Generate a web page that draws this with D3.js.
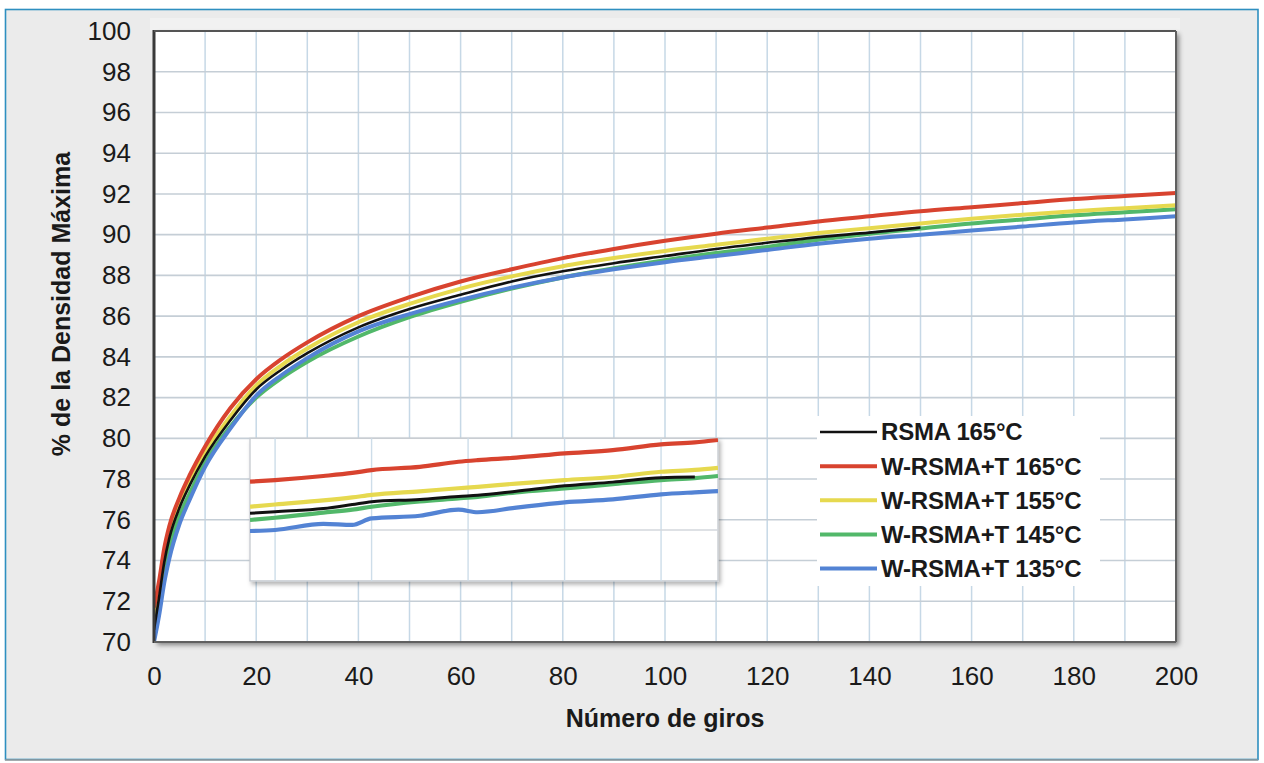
<!DOCTYPE html>
<html>
<head>
<meta charset="utf-8">
<script src="https://cdn.jsdelivr.net/npm/d3@7/dist/d3.min.js"></script>
<style>
  html, body { margin: 0; padding: 0; background: #ffffff; }
  svg { display: block; }
  text { font-family: "Liberation Sans", Arial, Helvetica, sans-serif; fill: #1a1a1a; }
</style>
</head>
<body>
<svg id="chart" width="1264" height="763"></svg>
<script>
// ---------------- DATA ----------------
const giros = [0, 1, 2, 3, 5, 7, 10, 15, 20, 25, 30, 40, 50, 60, 70, 80, 90, 100, 110, 120, 130, 140, 150, 160, 170, 180, 190, 200];

const rsma165 = [70.6, 72.2, 73.9, 75.1, 76.6, 77.7, 79.1, 80.9, 82.4, 83.38, 84.18, 85.45, 86.35, 87.05, 87.7, 88.2, 88.6, 88.95, 89.3, 89.6, 89.88, 90.1, 90.35, null, null, null, null, null];
const wrsmaT165 = [71.7, 73.0, 74.6, 75.7, 77.1, 78.2, 79.6, 81.5, 82.9, 83.9, 84.71, 86.0, 86.93, 87.7, 88.3, 88.85, 89.3, 89.7, 90.05, 90.35, 90.65, 90.9, 91.15, 91.35, 91.55, 91.75, 91.9, 92.05];
const wrsmaT155 = [71.3, 72.6, 74.2, 75.4, 76.8, 77.9, 79.3, 81.1, 82.6, 83.6, 84.41, 85.7, 86.6, 87.35, 87.95, 88.45, 88.85, 89.2, 89.5, 89.8, 90.08, 90.32, 90.55, 90.78, 90.98, 91.15, 91.3, 91.45];
const wrsmaT145 = [71.0, 72.2, 73.6, 74.7, 76.2, 77.3, 78.8, 80.6, 82.0, 82.97, 83.76, 85.0, 85.95, 86.7, 87.35, 87.9, 88.35, 88.75, 89.1, 89.4, 89.75, 90.05, 90.3, 90.55, 90.75, 90.95, 91.1, 91.25];
const wrsmaT135 = [70.0, 71.3, 72.9, 74.1, 75.8, 77.0, 78.6, 80.5, 82.1, 83.11, 83.94, 85.25, 86.1, 86.8, 87.4, 87.9, 88.3, 88.65, 88.95, 89.25, 89.55, 89.8, 90.0, 90.2, 90.4, 90.6, 90.75, 90.9];

const seriesNames = ["RSMA 165°C", "W-RSMA+T 165°C", "W-RSMA+T 155°C", "W-RSMA+T 145°C", "W-RSMA+T 135°C"];
const seriesColors = ["#111111", "#d8432f", "#e6d94f", "#52b86a", "#5383d4"];

// inset (ampliación) data
const insetX = [-2.6, 0, 5, 8, 10, 15, 19, 21, 25, 30, 35, 40, 43.5, 45.9];
const insetRsma165 = [76.32, 76.4, 76.55, 76.75, 76.89, 77.0, 77.15, 77.2, 77.4, 77.67, 77.85, 78.07, 78.1, null];
const insetW165 = [77.87, 77.95, 78.15, 78.3, 78.44, 78.6, 78.85, 78.93, 79.05, 79.26, 79.42, 79.7, 79.8, 79.92];
const insetW155 = [76.64, 76.75, 76.95, 77.1, 77.22, 77.4, 77.55, 77.62, 77.78, 77.95, 78.1, 78.36, 78.45, 78.55];
const insetW145 = [75.99, 76.1, 76.35, 76.5, 76.64, 76.9, 77.05, 77.13, 77.35, 77.54, 77.75, 77.95, 78.05, 78.15];
const insetW135 = [75.45, 75.5, 75.8, 75.75, 76.07, 76.2, 76.5, 76.37, 76.6, 76.86, 77.0, 77.25, 77.35, 77.41];

const xTicks = [0, 20, 40, 60, 80, 100, 120, 140, 160, 180, 200];
const yTicks = [70, 72, 74, 76, 78, 80, 82, 84, 86, 88, 90, 92, 94, 96, 98, 100];
const xGrid = [10, 20, 30, 40, 50, 60, 70, 80, 90, 100, 110, 120, 130, 140, 150, 160, 170, 180, 190];
const yGrid = [72, 74, 76, 78, 80, 82, 84, 86, 88, 90, 92, 94, 96, 98];
const insetXGrid = [0, 10, 20, 30, 40];
const insetYGrid = [75.5];

const xTitle = "Número de giros";
const yTitle = "% de la Densidad Máxima";

// ---------------- LAYOUT ----------------
const svg = d3.select("#chart");
const L = 154, R = 1176, T = 31, B = 642;

const x = d3.scaleLinear().domain([0, 200]).range([L, R]);
const y = d3.scaleLinear().domain([70, 100]).range([B, T]);

const defs = svg.append("defs");
const f = defs.append("filter").attr("id", "shadow").attr("x", "-5%").attr("y", "-5%").attr("width", "110%").attr("height", "115%");
f.append("feDropShadow").attr("dx", 3).attr("dy", 3).attr("stdDeviation", 2.5).attr("flood-color", "#000").attr("flood-opacity", 0.45);
const f2 = defs.append("filter").attr("id", "shadow2").attr("x", "-5%").attr("y", "-10%").attr("width", "110%").attr("height", "125%");
f2.append("feDropShadow").attr("dx", 2).attr("dy", 3).attr("stdDeviation", 2).attr("flood-color", "#000").attr("flood-opacity", 0.3);
defs.append("clipPath").attr("id", "plotclip").append("rect")
  .attr("x", L).attr("y", T).attr("width", R - L).attr("height", B - T);

// frame
svg.append("rect").attr("x", 5.5).attr("y", 9.5).attr("width", 1252.5).attr("height", 750)
  .attr("fill", "#ebebeb").attr("stroke", "#2e8fc0").attr("stroke-width", 1.6);
svg.append("line").attr("x1", 5).attr("x2", 1258).attr("y1", 760).attr("y2", 760)
  .attr("stroke", "#9a9a9a").attr("stroke-width", 1.5);

// light band above plot
svg.append("rect").attr("x", L - 4).attr("y", 18).attr("width", R - L + 8).attr("height", T - 18)
  .attr("fill", "#f1f1f1");

// plot background
svg.append("rect").attr("x", L).attr("y", T).attr("width", R - L).attr("height", B - T)
  .attr("fill", "#ffffff").attr("filter", "url(#shadow)");

// grid
const grid = svg.append("g");
grid.selectAll("line.v").data(xGrid).join("line")
  .attr("x1", d => x(d)).attr("x2", d => x(d)).attr("y1", T).attr("y2", B)
  .attr("stroke", "#c6d8e6").attr("stroke-width", 1.5);
grid.selectAll("line.h").data(yGrid).join("line")
  .attr("x1", L).attr("x2", R).attr("y1", d => y(d)).attr("y2", d => y(d))
  .attr("stroke", "#c5ced6").attr("stroke-width", 1.6);

// main series
const seriesData = [rsma165, wrsmaT165, wrsmaT155, wrsmaT145, wrsmaT135];
const drawOrder = [3, 4, 2, 1, 0];
const line = d3.line()
  .defined(d => d[1] != null)
  .x(d => x(d[0])).y(d => y(d[1]))
  .curve(d3.curveMonotoneX);
const lines = svg.append("g").attr("clip-path", "url(#plotclip)");
drawOrder.forEach(i => {
  lines.append("path")
    .datum(giros.map((g, k) => [g, seriesData[i][k]]))
    .attr("fill", "none")
    .attr("stroke", seriesColors[i])
    .attr("stroke-width", i === 0 ? 2.6 : 4)
    .attr("stroke-linejoin", "round")
    .attr("d", line);
});

// plot frame lines
svg.append("line").attr("x1", L).attr("x2", L).attr("y1", T - 1).attr("y2", B + 1)
  .attr("stroke", "#3a3a3a").attr("stroke-width", 3);
svg.append("line").attr("x1", L).attr("x2", R).attr("y1", T).attr("y2", T)
  .attr("stroke", "#555").attr("stroke-width", 2);
svg.append("line").attr("x1", R).attr("x2", R).attr("y1", T).attr("y2", B)
  .attr("stroke", "#606060").attr("stroke-width", 2);
svg.append("line").attr("x1", L).attr("x2", R).attr("y1", B).attr("y2", B)
  .attr("stroke", "#606060").attr("stroke-width", 2);

// ---------------- INSET ----------------
const ix = d3.scaleLinear().domain([-2.6, 45.9]).range([250, 718]);
const iy = d3.scaleLinear().domain([70, 100]).range([B, T]);
const iTop = iy(80), iBot = iy(73);
defs.append("clipPath").attr("id", "insetclip").append("rect")
  .attr("x", ix(-2.6)).attr("y", iTop).attr("width", ix(45.9) - ix(-2.6)).attr("height", iBot - iTop);
const inset = svg.append("g");
inset.append("rect").attr("x", ix(-2.6)).attr("y", iTop).attr("width", ix(45.9) - ix(-2.6)).attr("height", iBot - iTop)
  .attr("fill", "#ffffff").attr("stroke", "#c9cdd2").attr("stroke-width", 1.4).attr("filter", "url(#shadow2)");
inset.selectAll("line.iv").data(insetXGrid).join("line")
  .attr("x1", d => ix(d)).attr("x2", d => ix(d)).attr("y1", iTop).attr("y2", iBot)
  .attr("stroke", "#cddde9").attr("stroke-width", 1.4);
inset.selectAll("line.ih").data(insetYGrid).join("line")
  .attr("x1", ix(-2.6)).attr("x2", ix(45.9)).attr("y1", d => iy(d)).attr("y2", d => iy(d))
  .attr("stroke", "#d3d7dc").attr("stroke-width", 1.4);
const insetData = [insetRsma165, insetW165, insetW155, insetW145, insetW135];
const iline = d3.line()
  .defined(d => d[1] != null)
  .x(d => ix(d[0])).y(d => iy(d[1]))
  .curve(d3.curveMonotoneX);
const ilines = inset.append("g").attr("clip-path", "url(#insetclip)");
[4, 3, 2, 1, 0].forEach(i => {
  ilines.append("path")
    .datum(insetX.map((g, k) => [g, insetData[i][k]]))
    .attr("fill", "none")
    .attr("stroke", seriesColors[i])
    .attr("stroke-width", i === 0 ? 3 : 4.2)
    .attr("stroke-linejoin", "round")
    .attr("d", iline);
});

// ---------------- AXES ----------------
const yAxis = svg.append("g").attr("transform", `translate(${L - 23},0)`)
  .call(d3.axisLeft(y).tickValues(yTicks).tickSize(0).tickPadding(0).tickFormat(d3.format("d")));
yAxis.select(".domain").remove();
yAxis.selectAll("text").attr("font-size", 26).attr("fill", "#1a1a1a")
  .style("font-family", '"Liberation Sans", Arial, sans-serif');

const xAxis = svg.append("g").attr("transform", `translate(0,${B})`)
  .call(d3.axisBottom(x).tickValues(xTicks).tickSize(0).tickPadding(25).tickFormat(d3.format("d")));
xAxis.select(".domain").remove();
xAxis.selectAll("text").attr("font-size", 26).attr("fill", "#1a1a1a")
  .style("font-family", '"Liberation Sans", Arial, sans-serif');

svg.append("text").attr("x", (L + R) / 2).attr("y", 727).attr("text-anchor", "middle")
  .attr("font-size", 25).attr("font-weight", "bold").text(xTitle);
svg.append("text").attr("transform", `translate(70,${304}) rotate(-90)`).attr("text-anchor", "middle")
  .attr("font-size", 25).attr("font-weight", "bold").text(yTitle);

// ---------------- LEGEND ----------------
const legend = svg.append("g");
legend.append("rect").attr("x", 817).attr("y", 416).attr("width", 283).attr("height", 170).attr("fill", "#ffffff");
const legY = d3.scaleLinear().domain([0, 4]).range([432, 568.5]);
seriesNames.forEach((name, i) => {
  legend.append("line").attr("x1", 820).attr("x2", 877).attr("y1", legY(i)).attr("y2", legY(i))
    .attr("stroke", seriesColors[i]).attr("stroke-width", i === 0 ? 2.6 : 4);
  legend.append("text").attr("x", 881).attr("y", legY(i)).attr("dy", "0.35em")
    .attr("font-size", 24).attr("font-weight", "bold").attr("letter-spacing", -0.2).text(name);
});
</script>
</body>
</html>
